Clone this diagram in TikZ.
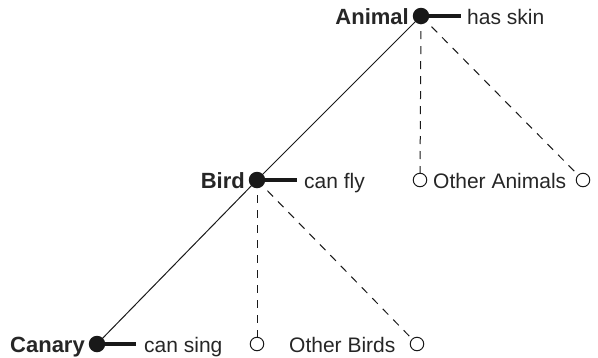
\documentclass[tikz,border=0pt]{standalone}
\usepackage{fontspec}
\setmainfont{Liberation Sans}
\begin{document}
\begin{tikzpicture}[x=1pt,y=-1pt,
  lbl/.style={font=\fontsize{21}{25}\selectfont, inner sep=0pt, text=black!85},
  blbl/.style={lbl, font=\fontsize{22}{26}\selectfont\bfseries},
  fulldot/.style={circle, fill=black!90, minimum size=16.5pt, inner sep=0pt},
  opendot/.style={circle, draw=black!90, line width=1pt, fill=white, minimum size=13.5pt, inner sep=0pt},
  prop/.style={line width=3.6pt, draw=black!90},
  isa/.style={line width=1pt, draw=black!90},
  other/.style={line width=1pt, draw=black!90, dash pattern=on 8pt off 7pt}]
\useasboundingbox (0,0) rectangle (598,357);
% concept dots
\coordinate (A) at (421,16);
\coordinate (B) at (257,180);
\coordinate (C) at (97,344);
% open circles
\node[opendot] (oa1) at (420,180) {};
\node[opendot] (oa2) at (583,180) {};
\node[opendot] (ob1) at (257,344) {};
\node[opendot] (ob2) at (417,344) {};
% property ends
\coordinate (Ap) at (461,16);
\coordinate (Bp) at (297,180);
\coordinate (Cp) at (136,344);
% connectors
\draw[isa] (A) -- (B);
\draw[isa] (B) -- (C);
\draw[other] (A) -- (oa1);
\draw[other] (A) -- (oa2);
\draw[other] (B) -- (ob1);
\draw[other] (B) -- (ob2);
\draw[prop] (A) -- (Ap);
\draw[prop] (B) -- (Bp);
\draw[prop] (C) -- (Cp);
\node[fulldot] (dA) at (A) {};
\node[fulldot] (dB) at (B) {};
\node[fulldot] (dC) at (C) {};
% labels
\node[blbl, anchor=base east] (lA) at (409,24) {Animal};
\node[blbl, anchor=base east] (lB) at (245,188) {Bird};
\node[blbl, anchor=base east] (lC) at (85,352) {Canary};
\node[lbl, anchor=base west] (pA) at (467,24) {has skin};
\node[lbl, anchor=base west] (pB) at (304,188) {can fly};
\node[lbl, anchor=base west] (pC) at (144,352) {can sing};
\node[lbl, anchor=base west] (oA) at (433,188) {Other Animals};
\node[lbl, anchor=base west] (oB) at (289,352) {Other Birds};
\end{tikzpicture}
\end{document}
